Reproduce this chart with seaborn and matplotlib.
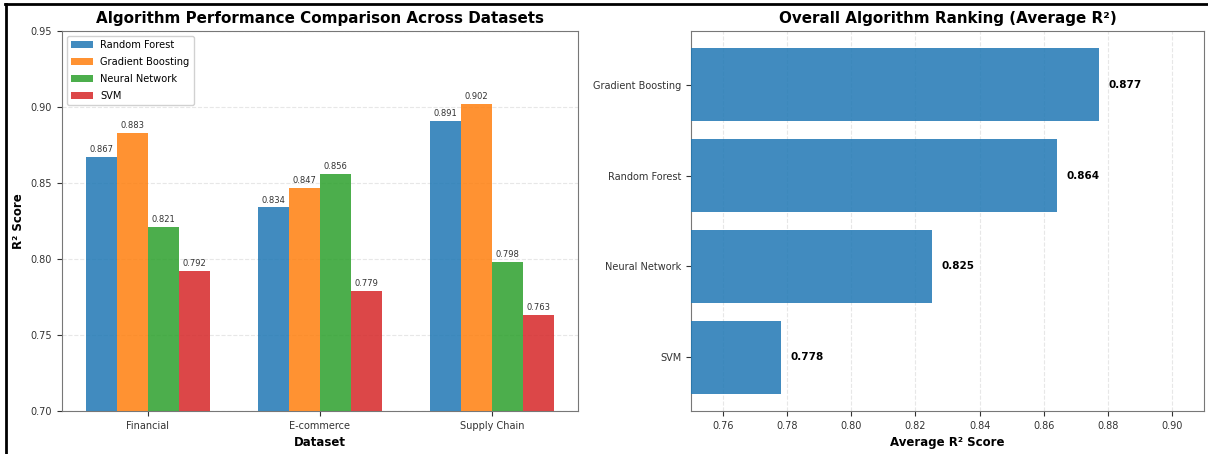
import numpy as np
import pandas as pd
import matplotlib
matplotlib.use("Agg")
import matplotlib.pyplot as plt
from matplotlib.lines import Line2D
import seaborn as sns

# Per-dataset R² scores
datasets = ["Financial", "E-commerce", "Supply Chain"]
algorithms = ["Random Forest", "Gradient Boosting", "Neural Network", "SVM"]
random_forest = [0.867, 0.834, 0.891]
gradient_boosting = [0.883, 0.847, 0.902]
neural_network = [0.821, 0.856, 0.798]
svm = [0.792, 0.779, 0.763]

palette = ["#1f77b4", "#ff7f0e", "#2ca02c", "#d62728"]

scores = {
    "Random Forest": random_forest,
    "Gradient Boosting": gradient_boosting,
    "Neural Network": neural_network,
    "SVM": svm,
}
rows = []
for alg in algorithms:
    for ds, val in zip(datasets, scores[alg]):
        rows.append({"Dataset": ds, "Algorithm": alg, "R2": val})
df = pd.DataFrame(rows)

# Average score per algorithm, ranked best first
avg = pd.DataFrame({"Algorithm": algorithms,
                    "Average": [np.mean(scores[a]) for a in algorithms]})
avg = avg.sort_values("Average", ascending=False).reset_index(drop=True)

plt.rcParams["font.family"] = ["DejaVu Sans"]
fig = plt.figure(figsize=(12.08, 4.54), dpi=100)
ax1 = fig.add_axes([0.0513, 0.0947, 0.4272, 0.837])
ax2 = fig.add_axes([0.5720, 0.0947, 0.4248, 0.837])

# Left: grouped bars
sns.barplot(data=df, x="Dataset", y="R2", hue="Algorithm", hue_order=algorithms,
            palette=palette, width=0.72, alpha=0.85, saturation=1,
            ax=ax1, zorder=3)
for cont in ax1.containers:
    ax1.bar_label(cont, fmt="%.3f", padding=2, fontsize=6, color="#333333")
ax1.set_ylim(0.70, 0.95)
ax1.set_yticks([0.70, 0.75, 0.80, 0.85, 0.90, 0.95])
ax1.set_title("Algorithm Performance Comparison Across Datasets",
              fontsize=10.9, fontweight="bold", pad=6)
ax1.set_xlabel("Dataset", fontsize=8.5, fontweight="bold", labelpad=4)
ax1.set_ylabel("R² Score", fontsize=8.5, fontweight="bold")
ax1.grid(axis="y", linestyle="--", alpha=0.3, zorder=0)
ax1.set_axisbelow(True)
ax1.legend(loc="upper left", fontsize=7.1, framealpha=0.9,
           labelspacing=0.72, handlelength=2.2)

# Right: ranking of averages
sns.barplot(data=avg, x="Average", y="Algorithm", orient="h",
            color="#1f77b4", alpha=0.85, saturation=1, width=0.8,
            ax=ax2, zorder=3)
for bar, val in zip(ax2.patches, avg["Average"]):
    ax2.text(val + 0.003, bar.get_y() + bar.get_height() / 2, f"{val:.3f}",
             va="center", ha="left", fontsize=7.5, fontweight="bold")
ax2.set_xlim(0.75, 0.91)
ax2.set_ylim(3.59, -0.59)
ax2.set_xticks(np.arange(0.76, 0.901, 0.02))
ax2.set_title("Overall Algorithm Ranking (Average R²)",
              fontsize=10.9, fontweight="bold", pad=6)
ax2.set_xlabel("Average R² Score", fontsize=8.5, fontweight="bold", labelpad=4)
ax2.set_ylabel("")
ax2.grid(axis="x", linestyle="--", alpha=0.3, zorder=0)
ax2.set_axisbelow(True)

for ax in (ax1, ax2):
    ax.tick_params(labelsize=7, colors="#333333")
    for s in ax.spines.values():
        s.set_color("#777777")

# Frame lines along the top and left edges
fig.add_artist(Line2D([0.005, 0.005], [0, 0.992], transform=fig.transFigure,
                      color="black", linewidth=2))
fig.add_artist(Line2D([0.004, 1], [0.991, 0.991], transform=fig.transFigure,
                      color="black", linewidth=2))

fig.savefig("out.png", dpi=100)
